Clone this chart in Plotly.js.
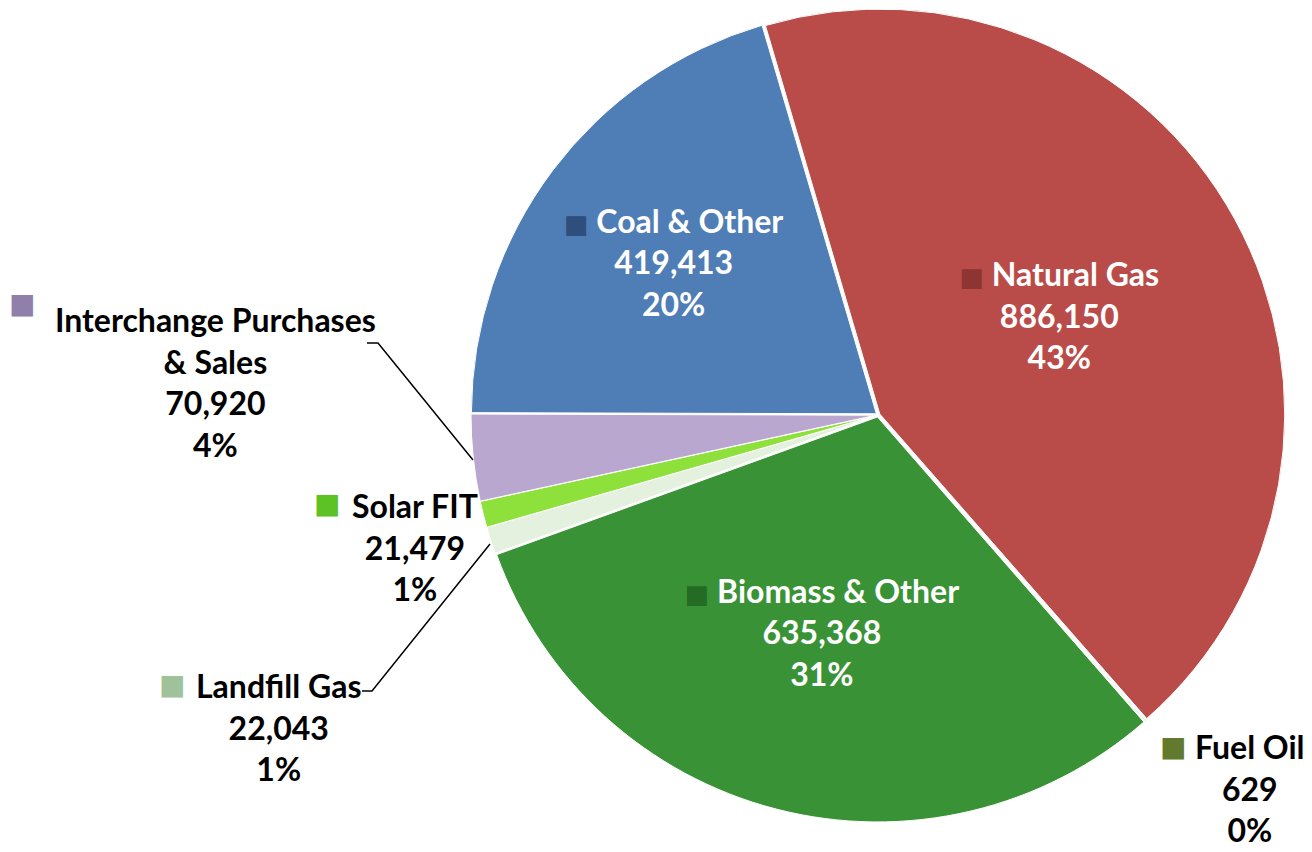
<!DOCTYPE html>
<html>
<head>
<meta charset="utf-8">
<script src="https://cdn.plot.ly/plotly-3.0.1.min.js"></script>
<style>html,body{margin:0;padding:0;background:#fff;}#chart{width:1312px;height:852px;}</style>
</head>
<body>
<div id="chart"></div>
<script>
// ---- data (clockwise order starting at Natural Gas) ----
const categories = ["Natural Gas", "Fuel Oil", "Biomass & Other", "Landfill Gas", "Solar FIT", "Interchange Purchases<br>& Sales", "Coal & Other"];
const values = [886150, 629, 635368, 22043, 21479, 70920, 419413];
const percentLabels = ["43%", "0%", "31%", "1%", "1%", "4%", "20%"];
const sliceColors = ["#B94C49", "#77933C", "#3A9236", "#E4F1DE", "#8EE03B", "#B9A7D0", "#4F7DB5"];
const keyColors = ["#8E3432", "#627A2E", "#246B24", "#9FC29A", "#5DC224", "#8F7FAA", "#2E4E7C"];
const labelInside = [true, false, true, false, false, false, true];

const W = 1312, H = 852;
const px = (x) => x / W;
const py = (y) => 1 - y / H;
const fmt = (v) => v.toLocaleString("en-US");
const FONT = "Lato, 'Open Sans', sans-serif";
const keySq = (c) => `<span style="color:${c};font-family:'DejaVu Sans';font-size:26px">■</span>`;

const texts = categories.map((c, i) =>
  `${keySq(keyColors[i])} ${c}<br>${fmt(values[i])}<br>${percentLabels[i]}`);

const trace = {
  type: "pie",
  labels: categories,
  values: values,
  text: texts,
  textinfo: "text",
  textposition: labelInside.map(b => b ? "inside" : "none"),
  insidetextorientation: "horizontal",
  textfont: {family: FONT, size: 32, weight: 700, color: "#FFFFFF"},
  sort: false,
  direction: "clockwise",
  rotation: -16.4,
  pull: [0.005, 0.005, 0.005, 0.005, 0.005, 0.005, 0.005],
  marker: {colors: sliceColors, line: {color: "#FFFFFF", width: 1}},
  domain: {x: [px(471), px(1285)], y: [py(822), py(8)]},
  hoverinfo: "none"
};

// outside labels (index into the arrays, label block centre in px, key square position)
const outside = [
  {i: 5, cx: 215, cy: 382, kx: 22, ky: 303},
  {i: 4, cx: 415, cy: 547, kx: 327, ky: 503},
  {i: 3, cx: 278, cy: 727, kx: 172, ky: 684},
  {i: 1, cx: 1250, cy: 788, kx: 1173, ky: 746}
];

const annotations = [];
outside.forEach(o => {
  annotations.push({
    xref: "paper", yref: "paper", x: px(o.cx), y: py(o.cy),
    xanchor: "center", yanchor: "middle", showarrow: false, align: "center",
    text: `${categories[o.i]}<br>${fmt(values[o.i])}<br>${percentLabels[o.i]}`,
    font: {family: FONT, size: 32, weight: 700, color: "#000000"}
  });
  annotations.push({
    xref: "paper", yref: "paper", x: px(o.kx), y: py(o.ky),
    xanchor: "center", yanchor: "middle", showarrow: false,
    text: "■", font: {family: "DejaVu Sans", size: 28, color: keyColors[o.i]}
  });
});

const leader = (pts) => "M " + pts.map(p => `${px(p[0])},${py(p[1])}`).join(" L ");
const shapes = [
  {type: "path", xref: "paper", yref: "paper", path: leader([[367, 343], [378, 343], [473, 460]]), line: {color: "#000", width: 1.5}},
  {type: "path", xref: "paper", yref: "paper", path: leader([[362, 691], [372, 691], [490, 544]]), line: {color: "#000", width: 1.5}}
];

const layout = {
  width: W, height: H,
  margin: {l: 0, r: 0, t: 0, b: 0},
  paper_bgcolor: "#FFFFFF",
  plot_bgcolor: "#FFFFFF",
  showlegend: false,
  annotations: annotations,
  shapes: shapes
};

Plotly.newPlot("chart", [trace], layout, {displayModeBar: false, staticPlot: true});
</script>
</body>
</html>
